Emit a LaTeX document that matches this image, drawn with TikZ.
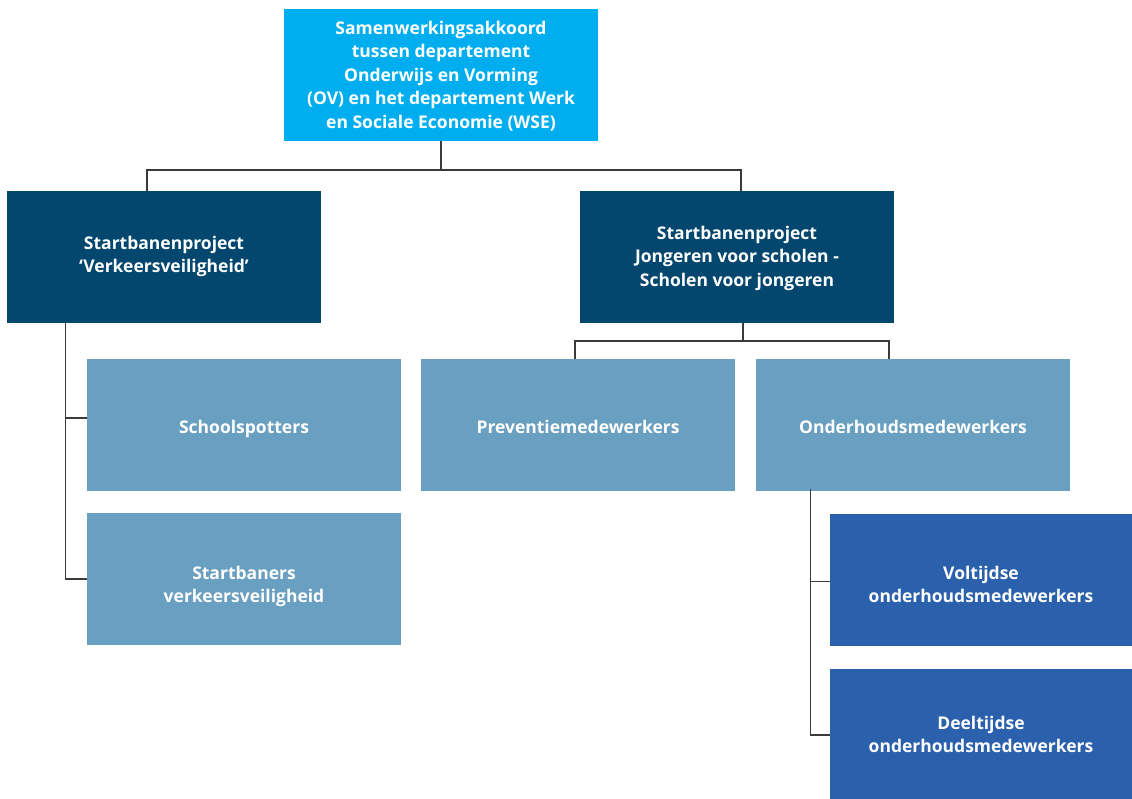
\documentclass[tikz,border=0pt]{standalone}
\usepackage{fontspec}
\setmainfont{Open Sans}
\definecolor{cTop}{HTML}{00AEEF}
\definecolor{cDark}{HTML}{03466E}
\definecolor{cLight}{HTML}{699FC0}
\definecolor{cBlue}{HTML}{2B60AC}
\definecolor{cLine}{HTML}{3A3A3A}
\newcommand\rl[1]{\raisebox{-\shv pt}[13pt][4pt]{#1}}
\def\shv{0}
\begin{document}
\begin{tikzpicture}[x=1pt,y=-1pt,
  box/.style={rectangle, inner sep=0pt, minimum width=314pt, minimum height=132pt,
    text=white, align=center, font=\fontsize{17.5}{23.5}\selectfont\bfseries,
    execute at begin node={\def\shv{#1}}},
  box/.default=0,
  conn/.style={draw=cLine, line width=1.5pt}]
\useasboundingbox (0,0) rectangle (1132,798);
\node[box=1.5, fill=cTop] (top) at (441,75) {\rl{Samenwerkingsakkoord}\\\rl{tussen departement}\\\rl{Onderwijs en Vorming}\\\rl{(OV) en het departement Werk}\\\rl{en Sociale Economie (WSE)}};
\node[box=-0.75, fill=cDark] (L) at (164,257) {\rl{Startbanenproject}\\\rl{‘Verkeersveiligheid’}};
\node[box=1, fill=cDark] (R) at (737,257) {\rl{Startbanenproject}\\\rl{Jongeren voor scholen -}\\\rl{Scholen voor jongeren}};
\node[box=3.8, fill=cLight] (S) at (244,425) {\rl{Schoolspotters}};
\node[box=7.25, fill=cLight] (B) at (244,579) {\rl{Startbaners}\\\rl{verkeersveiligheid}};
\node[box=3.8, fill=cLight] (P) at (578,425) {\rl{Preventiemedewerkers}};
\node[box=3.8, fill=cLight] (O) at (913,425) {\rl{Onderhoudsmedewerkers}};
\node[box=6.25, fill=cBlue, minimum width=302pt] (V) at (981,580) {\rl{Voltijdse}\\\rl{onderhoudsmedewerkers}};
\node[box=1.25, fill=cBlue, minimum width=302pt] (D) at (981,735) {\rl{Deeltijdse}\\\rl{onderhoudsmedewerkers}};
% top connectors
\coordinate (j1) at (441,170);
\draw[conn] (top.south) -- (j1);
\draw[conn] (j1) -| ([xshift=-17pt]L.north);
\draw[conn] (j1) -| ([xshift=4pt]R.north);
% left trunk
\coordinate (lt) at (65.5,579);
\draw[conn] (L.south -| lt) -- (lt) -- (B.west);
\draw[conn] (S.west |- 0,418) -- (65.5,418);
% right
\coordinate (j2) at (743,341);
\draw[conn] ([xshift=6pt]R.south) -- (j2);
\draw[conn] (j2) -| ([xshift=-3pt]P.north);
\draw[conn] (j2) -| ([xshift=-24pt]O.north);
% onderhoud trunk
\coordinate (ot) at (810.5,735);
\draw[conn] ([yshift=2pt]O.south -| ot) -- (ot) -- (D.west);
\draw[conn] (810.5,581.5) -- (V.west |- 0,581.5);
\end{tikzpicture}
\end{document}
